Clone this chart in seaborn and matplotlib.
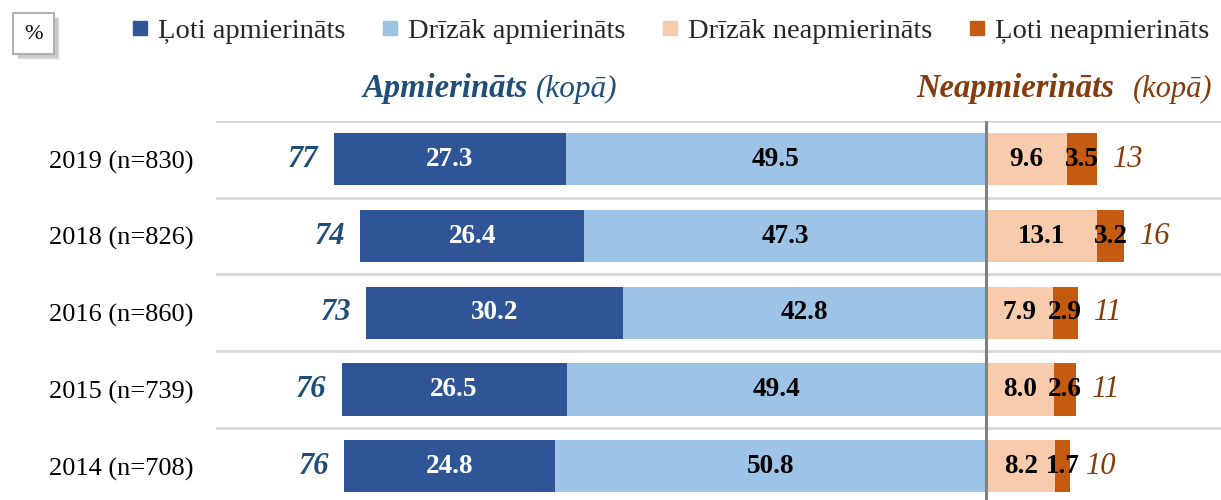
import matplotlib
matplotlib.use("Agg")
import matplotlib.pyplot as plt
import seaborn as sns
import pandas as pd
from matplotlib.lines import Line2D
from matplotlib.patches import Rectangle

years = ["2019 (n=830)", "2018 (n=826)", "2016 (n=860)", "2015 (n=739)", "2014 (n=708)"]
loti_apm = [27.3, 26.4, 30.2, 26.5, 24.8]
drizak_apm = [49.5, 47.3, 42.8, 49.4, 50.8]
drizak_neapm = [9.6, 13.1, 7.9, 8.0, 8.2]
loti_neapm = [3.5, 3.2, 2.9, 2.6, 1.7]
total_apm = [77, 74, 73, 76, 76]
total_neapm = [13, 16, 11, 11, 10]
series_names = ["Ļoti apmierināts", "Drīzāk apmierināts", "Drīzāk neapmierināts", "Ļoti neapmierināts"]

c_dark_blue = "#2F5597"
c_light_blue = "#9DC3E6"
c_peach = "#F8CBAD"
c_orange = "#C55A11"
c_blue_txt = "#1F4E79"
c_brown_txt = "#843C0C"

sns.set_theme(style="white")
plt.rcParams["font.family"] = ["Liberation Serif", "DejaVu Serif"]

df = pd.DataFrame({
    "year": years,
    "neg_outer": [-(a + b) for a, b in zip(loti_apm, drizak_apm)],
    "neg_inner": [-b for b in drizak_apm],
    "pos_outer": [c + d for c, d in zip(drizak_neapm, loti_neapm)],
    "pos_inner": drizak_neapm,
})

fig = plt.figure(figsize=(12.21, 5.0), dpi=100)
ax = fig.add_axes([216 / 1221, 0.0, 1 - 216 / 1221, 1 - 121 / 500])

bw = 0.68
bar_kw = dict(orient="h", width=bw, ax=ax, saturation=1, edgecolor="none", linewidth=0)
sns.barplot(data=df, y="year", x="neg_outer", color=c_dark_blue, **bar_kw)
sns.barplot(data=df, y="year", x="neg_inner", color=c_light_blue, **bar_kw)
sns.barplot(data=df, y="year", x="pos_outer", color=c_orange, **bar_kw)
sns.barplot(data=df, y="year", x="pos_inner", color=c_peach, **bar_kw)

ax.set_xlim(-90.7, 27.7)
ax.set_ylim(4.44, -0.5)
for i in range(len(years) + 1):
    ax.axhline(i - 0.5, color="#D9D9D9", lw=2.0, zorder=0)
ax.axvline(0, color="#808080", lw=2.2, zorder=5)

ax.set_xlabel("")
ax.set_ylabel("")
ax.set_xticks([])
ax.tick_params(axis="y", length=0, pad=16, labelsize=19)
for lab in ax.get_yticklabels():
    lab.set_color("black")
for s in ax.spines.values():
    s.set_visible(False)

vfs = 19.5
for i in range(len(years)):
    a, b, c, d = loti_apm[i], drizak_apm[i], drizak_neapm[i], loti_neapm[i]
    ax.text(-(b + a / 2), i, f"{a:.1f}", ha="center", va="center", color="white",
            fontsize=vfs, fontweight="bold")
    ax.text(-b / 2, i, f"{b:.1f}", ha="center", va="center", color="black",
            fontsize=vfs, fontweight="bold")
    ax.text(c / 2, i, f"{c:.1f}", ha="center", va="center", color="black",
            fontsize=vfs, fontweight="bold")
    ax.text(c + d / 2, i, f"{d:.1f}", ha="center", va="center", color="black",
            fontsize=vfs, fontweight="bold", zorder=6)
    ax.text(-(a + b) - 1.8, i, f"{total_apm[i]}", ha="right", va="center", color=c_blue_txt,
            fontsize=22, fontweight="bold", fontstyle="italic")
    ax.text(c + d + 1.9, i, f"{total_neapm[i]}", ha="left", va="center", color=c_brown_txt,
            fontsize=22, fontstyle="italic")

# headers
hy = 1 - 89 / 500
fig.text(528 / 1221, hy, "Apmierināts", ha="right", va="center", color=c_blue_txt,
         fontsize=23.5, fontweight="bold", fontstyle="italic")
fig.text(536 / 1221, hy, "(kopā)", ha="left", va="center", color=c_blue_txt,
         fontsize=22.5, fontstyle="italic")
fig.text(1114 / 1221, hy, "Neapmierināts", ha="right", va="center", color=c_brown_txt,
         fontsize=23.5, fontweight="bold", fontstyle="italic")
fig.text(1133 / 1221, hy, "(kopā)", ha="left", va="center", color=c_brown_txt,
         fontsize=22, fontstyle="italic")

# legend
handles = [Line2D([], [], marker="s", linestyle="", markersize=10.5, color=col)
           for col in [c_dark_blue, c_light_blue, c_peach, c_orange]]
fig.legend(handles, series_names, loc="center left", bbox_to_anchor=(130 / 1221, 1 - 31 / 500),
           ncol=4, frameon=False, fontsize=20.5, handlelength=0.7, handletextpad=0.3,
           columnspacing=1.2, borderaxespad=0, borderpad=0)

# % box with shadow
for k, alpha in [(6, 0.12), (5, 0.18), (4, 0.25)]:
    fig.patches.append(Rectangle(((13 + k) / 1221, 1 - (54 + k) / 500), 41 / 1221, 41 / 500,
                                 transform=fig.transFigure, facecolor="#909090", alpha=alpha,
                                 edgecolor="none", zorder=1))
fig.patches.append(Rectangle((13 / 1221, 1 - 54 / 500), 41 / 1221, 41 / 500, transform=fig.transFigure,
                             facecolor="white", edgecolor="#B0B0B0", lw=1.5, zorder=2))
fig.text(33.5 / 1221, 1 - 34 / 500, "%", ha="center", va="center", fontsize=16, color="black", zorder=3)

fig.savefig("out.png", dpi=100)
